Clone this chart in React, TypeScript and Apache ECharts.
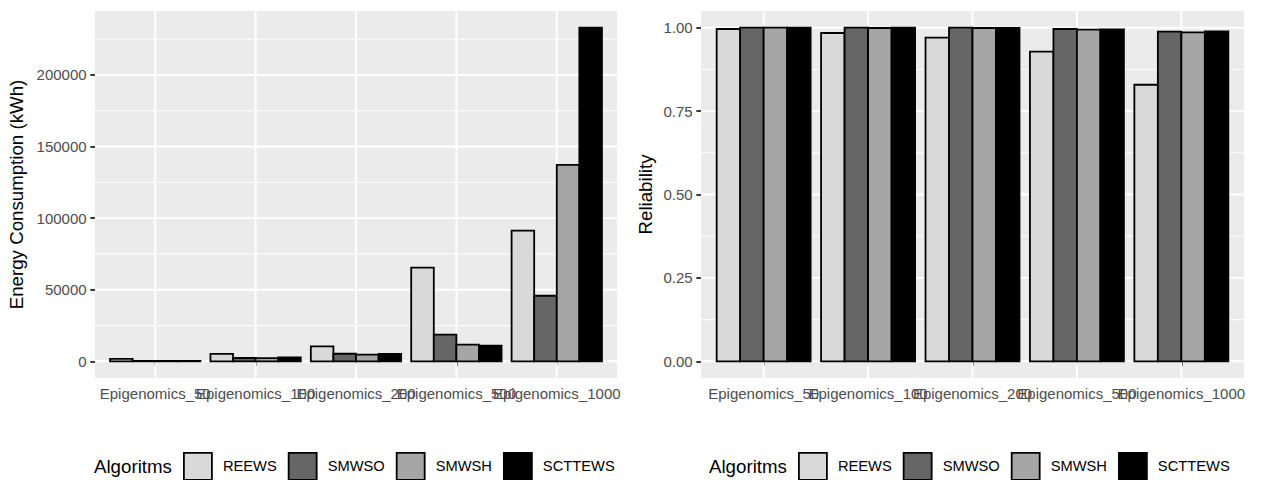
import React, { useEffect, useRef } from 'react';
import * as echarts from 'echarts';

const categories = ['Epigenomics_50', 'Epigenomics_100', 'Epigenomics_200', 'Epigenomics_500', 'Epigenomics_1000'];
const algorithms = ['REEWS', 'SMWSO', 'SMWSH', 'SCTTEWS'];
const colors = ['#D9D9D9', '#666666', '#A6A6A6', '#000000'];

const energyREEWS = [1700, 5200, 10400, 65500, 91300];
const energySMWSO = [300, 2300, 5300, 18600, 45800];
const energySMWSH = [300, 2200, 4700, 11600, 137200];
const energySCTTEWS = [300, 2700, 5100, 10900, 233000];

const relREEWS = [0.996, 0.984, 0.970, 0.928, 0.829];
const relSMWSO = [1.0, 1.0, 1.0, 0.996, 0.988];
const relSMWSH = [1.0, 0.999, 0.999, 0.994, 0.986];
const relSCTTEWS = [1.0, 1.0, 0.999, 0.995, 0.989];

const energyTicks = [0, 50000, 100000, 150000, 200000];
const energyMinor = [25000, 75000, 125000, 175000, 225000];
const relTicks = [0, 0.25, 0.5, 0.75, 1];
const relMinor = [0.125, 0.375, 0.625, 0.875];
const catPositions = [1, 2, 3, 4, 5];

const FONT = '"Liberation Sans", Arial, Helvetica, sans-serif';

export default function App() {
  const ref = useRef<HTMLDivElement>(null);
  useEffect(() => {
    if (!ref.current) return;
    const chart = echarts.init(ref.current, undefined, { renderer: 'svg' });

    const energy = [energyREEWS, energySMWSO, energySMWSH, energySCTTEWS];
    const rel = [relREEWS, relSMWSO, relSMWSH, relSCTTEWS];
    const eMax = Math.max(...energy.flat());
    const rMax = Math.max(...rel.flat());

    const gridRender = (params: any, api: any) => {
      const cs = params.coordSys;
      const o = api.value(0);
      const v = api.value(1);
      const major = api.value(2);
      const lw = major ? 1.9 : 0.95;
      if (o === 0) {
        const y = api.coord([1, v])[1];
        return { type: 'line', shape: { x1: cs.x, y1: y, x2: cs.x + cs.width, y2: y }, style: { stroke: '#FFFFFF', lineWidth: lw } };
      }
      const x = api.coord([v, 0])[0];
      return { type: 'line', shape: { x1: x, y1: cs.y, x2: x, y2: cs.y + cs.height }, style: { stroke: '#FFFFFF', lineWidth: lw } };
    };

    const gridData = (majors: number[], minors: number[]) => [
      ...majors.map((v) => [0, v, 1]),
      ...minors.map((v) => [0, v, 0]),
      ...catPositions.map((v) => [1, v, 1]),
    ];

    const labelRender = (params: any, api: any) => {
      const cs = params.coordSys;
      const x = api.coord([api.value(0), 0])[0];
      return {
        type: 'text',
        x,
        y: cs.y + cs.height + 8.4,
        style: {
          text: categories[params.dataIndex],
          fontSize: 15,
          fontFamily: FONT,
          fill: '#4D4D4D',
          align: 'center',
          verticalAlign: 'top',
        },
      };
    };

    const barSeries = (gi: number, k: number, vals: number[]) => {
      const off = (k - 1.5) * 0.225;
      return {
        type: 'custom',
        name: algorithms[k],
        xAxisIndex: gi,
        yAxisIndex: gi,
        z: 2,
        itemStyle: { color: colors[k], borderColor: '#000', borderWidth: 1.8 },
        data: vals.map((v, i) => [i, v]),
        renderItem: (params: any, api: any) => {
          const c = api.value(0) + 1 + off;
          const p0 = api.coord([c - 0.1125, 0]);
          const p1 = api.coord([c + 0.1125, api.value(1)]);
          return {
            type: 'rect',
            shape: { x: p0[0], y: p1[1], width: p1[0] - p0[0], height: p0[1] - p1[1] },
            style: { fill: colors[k], stroke: '#000000', lineWidth: 1.8 },
          };
        },
      };
    };

    const xAxis = (gi: number) => ({
      type: 'value',
      gridIndex: gi,
      min: 0.4,
      max: 5.6,
      axisLine: { show: false },
      splitLine: { show: false },
      axisTick: { show: true, length: 4.7, lineStyle: { color: '#333333', width: 1.9 }, customValues: catPositions },
      axisLabel: { show: false },
    });

    const yAxis = (gi: number, min: number, max: number, ticks: number[], fmt: (v: number) => string) => ({
      type: 'value',
      gridIndex: gi,
      min,
      max,
      axisLine: { show: false },
      splitLine: { show: false },
      axisTick: { show: true, length: 4.7, lineStyle: { color: '#333333', width: 1.9 }, customValues: ticks },
      axisLabel: {
        customValues: ticks,
        formatter: fmt,
        fontSize: 15,
        fontFamily: FONT,
        color: '#4D4D4D',
        margin: 8.4,
        showMinLabel: true,
        showMaxLabel: true,
      },
    });

    const legend = (left: number) => ({
      left,
      top: 452,
      padding: 0,
      orient: 'horizontal',
      icon: 'rect',
      itemWidth: 28,
      itemHeight: 27,
      itemGap: 11,
      selectedMode: false,
      data: algorithms,
      itemStyle: { borderColor: '#000000', borderWidth: 1.8 },
      textStyle: { fontSize: 14.7, fontFamily: FONT, color: '#000000', padding: [0, 0, 0, 6] },
    });

    const text = (t: string, x: number, y: number, rot: number, align: string) => ({
      type: 'text',
      x,
      y,
      rotation: rot,
      silent: true,
      style: {
        text: t,
        fontSize: 18.7,
        fontFamily: FONT,
        fill: '#000000',
        align,
        verticalAlign: 'middle',
        textAlign: align,
        textVerticalAlign: 'middle',
      },
    });

    chart.setOption({
      animation: false,
      backgroundColor: '#FFFFFF',
      grid: [
        { left: 95, top: 11, width: 522, height: 367, show: true, backgroundColor: '#EBEBEB', borderWidth: 0 },
        { left: 701, top: 11, width: 543, height: 367, show: true, backgroundColor: '#EBEBEB', borderWidth: 0 },
      ],
      xAxis: [xAxis(0), xAxis(1)],
      yAxis: [
        yAxis(0, -0.05 * eMax, 1.05 * eMax, energyTicks, (v: number) => String(Math.round(v))),
        yAxis(1, -0.05 * rMax, 1.05 * rMax, relTicks, (v: number) => v.toFixed(2)),
      ],
      legend: [legend(183), legend(798)],
      graphic: [
        text('Energy Consumption (kWh)', 16.5, 194.5, Math.PI / 2, 'center'),
        text('Reliability', 645.5, 194.5, Math.PI / 2, 'center'),
        text('Algoritms', 94, 466, 0, 'left'),
        text('Algoritms', 709, 466, 0, 'left'),
      ],
      series: [
        { type: 'custom', name: '_grid0', xAxisIndex: 0, yAxisIndex: 0, z: 1, silent: true, data: gridData(energyTicks, energyMinor), renderItem: gridRender },
        { type: 'custom', name: '_grid1', xAxisIndex: 1, yAxisIndex: 1, z: 1, silent: true, data: gridData(relTicks, relMinor), renderItem: gridRender },
        ...energy.map((vals, k) => barSeries(0, k, vals)),
        ...rel.map((vals, k) => barSeries(1, k, vals)),
        { type: 'custom', name: '_lab0', xAxisIndex: 0, yAxisIndex: 0, z: 3, silent: true, clip: false, data: catPositions.map((p) => [p, 0]), renderItem: labelRender },
        { type: 'custom', name: '_lab1', xAxisIndex: 1, yAxisIndex: 1, z: 3, silent: true, clip: false, data: catPositions.map((p) => [p, 0]), renderItem: labelRender },
      ],
    });
    return () => chart.dispose();
  }, []);

  return <div ref={ref} style={{ position: 'absolute', left: 0, top: 0, width: 1263, height: 480 }} />;
}
